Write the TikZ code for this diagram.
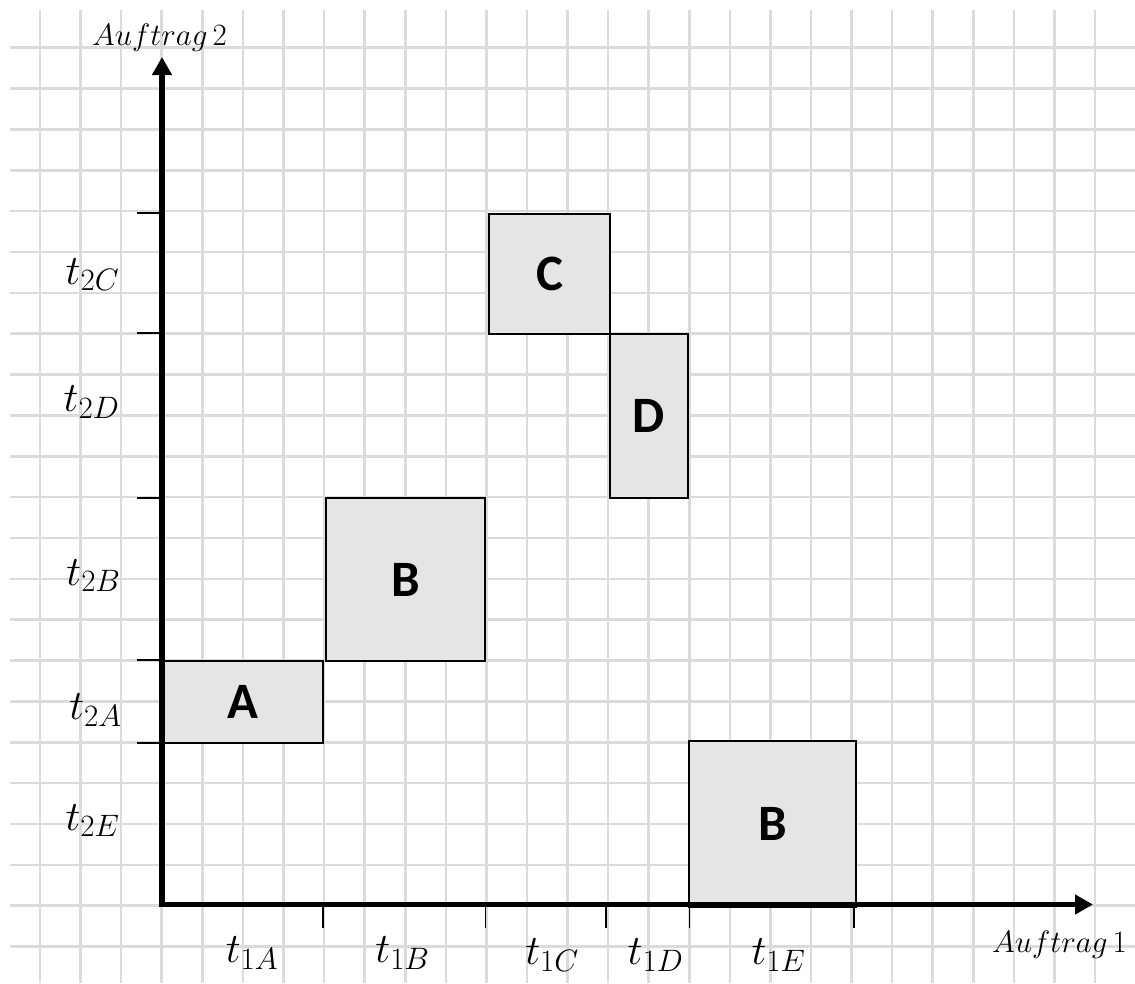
\RequirePackage{fix-cm}
\documentclass[tikz,border=0pt]{standalone}
\usepackage{fontspec}
\newfontfamily\boxfont{Carlito}
\usetikzlibrary{arrows.meta}
\DeclareMathSizes{42}{42}{31}{21}
\DeclareMathSizes{31}{31}{23}{16}
\begin{document}
\begin{tikzpicture}[x=1pt,y=-1pt,
  gridline/.style={line width=2.6pt, draw=gray!28},
  axisline/.style={line width=5.5pt, line join=miter,
    {Triangle[length=18pt,width=19pt]}-{Triangle[length=18pt,width=19pt]}},
  tickline/.style={line width=1.5pt, draw=black},
  taskbox/.style={draw=black, line width=1.6pt, fill=gray!20, inner sep=0pt,
    font=\boxfont\bfseries\fontsize{51}{53}\selectfont},
  mlabel/.style={inner sep=0pt, font=\fontsize{42}{44}\selectfont},
  alabel/.style={inner sep=0pt, font=\fontsize{31}{34}\selectfont}]
\useasboundingbox (0,0) rectangle (1135,983);
\fill[white] (0,0) rectangle (1135,983);
% grid
\foreach \k in {0,...,26}{
  \draw[gridline] ({40+40.58*\k},10) -- ({40+40.58*\k},983);
}
\foreach \k in {0,...,22}{
  \draw[gridline] (10,{47.7+40.86*\k}) -- (1135,{47.7+40.86*\k});
}
% boxes
\node[taskbox, minimum width=161pt, minimum height=82pt] (A) at (242.5,702) {A};
\node[taskbox, minimum width=159pt, minimum height=163pt] (B1) at (405.5,579.5) {B};
\node[taskbox, minimum width=121pt, minimum height=120pt] (C) at (549.5,274) {C};
\node[taskbox, minimum width=78pt, minimum height=164pt] (D) at (649,416) {D};
\node[taskbox, minimum width=167pt, minimum height=166pt] (B2) at (772.5,824) {B};
% axes
\coordinate (O) at (162,904.5);
\coordinate (ytip) at (162,57);
\coordinate (xtip) at (1093,904.5);
\draw[axisline] (ytip) -- (O) -- (xtip);
% y ticks
\foreach \y in {213,333,498,660,743}{
  \draw[tickline] (137,\y) -- (162,\y);
}
% x ticks
\foreach \x in {323,485.5,606,689.5,854}{
  \draw[tickline] (\x,904.5) -- (\x,928);
}
% labels
\node[mlabel] (l2C) at (92.5,274.5) {$t_{2C}$};
\node[mlabel] (l2D) at (91.5,402) {$t_{2D}$};
\node[mlabel] (l2B) at (93.5,575.5) {$t_{2B}$};
\node[mlabel] (l2A) at (95.5,710) {$t_{2A}$};
\node[mlabel] (l2E) at (92.5,820.5) {$t_{2E}$};
\node[mlabel] (l1A) at (252,953) {$t_{1A}$};
\node[mlabel] (l1B) at (402.5,953) {$t_{1B}$};
\node[mlabel] (l1C) at (552,955) {$t_{1C}$};
\node[mlabel] (l1D) at (655.5,955) {$t_{1D}$};
\node[mlabel] (l1E) at (778.5,955) {$t_{1E}$};
\node[alabel] (ax2) at (159.5,38) {$Auftrag\,2$};
\node[alabel] (ax1) at (1059.5,945) {$Auftrag\,1$};
\end{tikzpicture}
\end{document}
